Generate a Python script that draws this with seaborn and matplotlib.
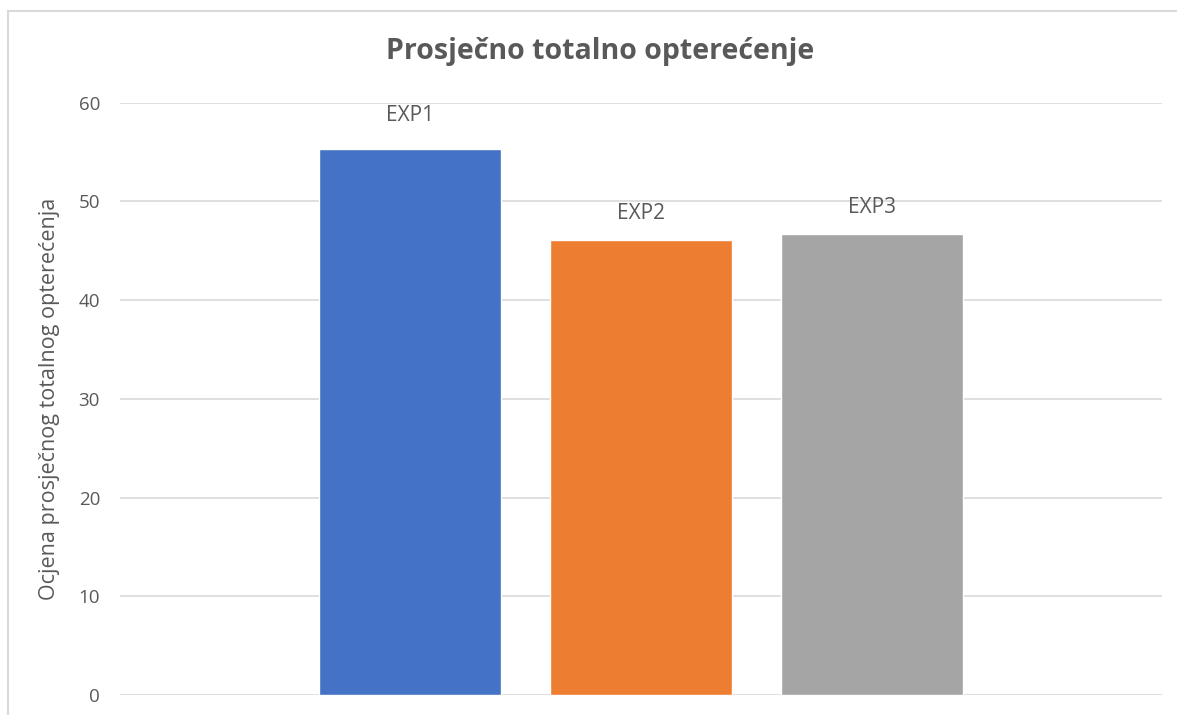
import matplotlib
matplotlib.use("Agg")
import matplotlib.pyplot as plt
import seaborn as sns
import pandas as pd
from matplotlib.patches import Rectangle

categories = ["EXP1", "EXP2", "EXP3"]
values = [55.36, 46.09, 46.67]
colors = ["#4472C4", "#ED7D31", "#A5A5A5"]
yticks = [0, 10, 20, 30, 40, 50, 60]

sns.set_theme(style="white")
plt.rcParams['font.family'] = ['Open Sans', 'DejaVu Sans']

df = pd.DataFrame({"exp": categories, "val": values})

fig = plt.figure(figsize=(11.77, 7.15), dpi=100)
ax = fig.add_axes([120/1177, 20/715, 1042/1177, (695-102.7)/715])

sns.barplot(data=df, x="exp", y="val", hue="exp", palette=colors,
            width=0.784, saturation=1, legend=False, ax=ax, zorder=3)

ax.set_xlim(-1.255, 3.255)
ax.set_ylim(0, 60)
ax.set_yticks(yticks)
ax.set_yticklabels([str(t) for t in yticks], color="#595959", fontsize=13.5)
ax.tick_params(axis="y", length=0, pad=14.4)
ax.set_xticks([])
ax.set_xlabel("")
ax.yaxis.grid(True, color="#d9d9d9", linewidth=1.2, zorder=0)
ax.set_axisbelow(True)
for s in ax.spines.values():
    s.set_visible(False)

ax.set_ylabel("Ocjena prosječnog totalnog opterećenja", color="#595959", fontsize=15.5)
ax.yaxis.set_label_coords(-0.0575, 0.5)

offsets = [24, 19, 19]
for i, (c, v) in enumerate(zip(categories, values)):
    ax.annotate(c, (i, v), xytext=(0, offsets[i]), textcoords="offset points",
                ha="center", va="center", color="#595959", fontsize=15)

fig.text(600/1177, 1 - 51/715, "Prosječno totalno opterećenje", ha="center", va="center",
         fontsize=20.5, fontweight="bold", color="#595959")

fig.patches.append(Rectangle((8/1177, -0.05), 1.2, (715-11)/715 + 0.05,
                             transform=fig.transFigure, fill=False,
                             edgecolor="#d9d9d9", linewidth=1.5, zorder=0))

fig.savefig("out.png", dpi=100)
